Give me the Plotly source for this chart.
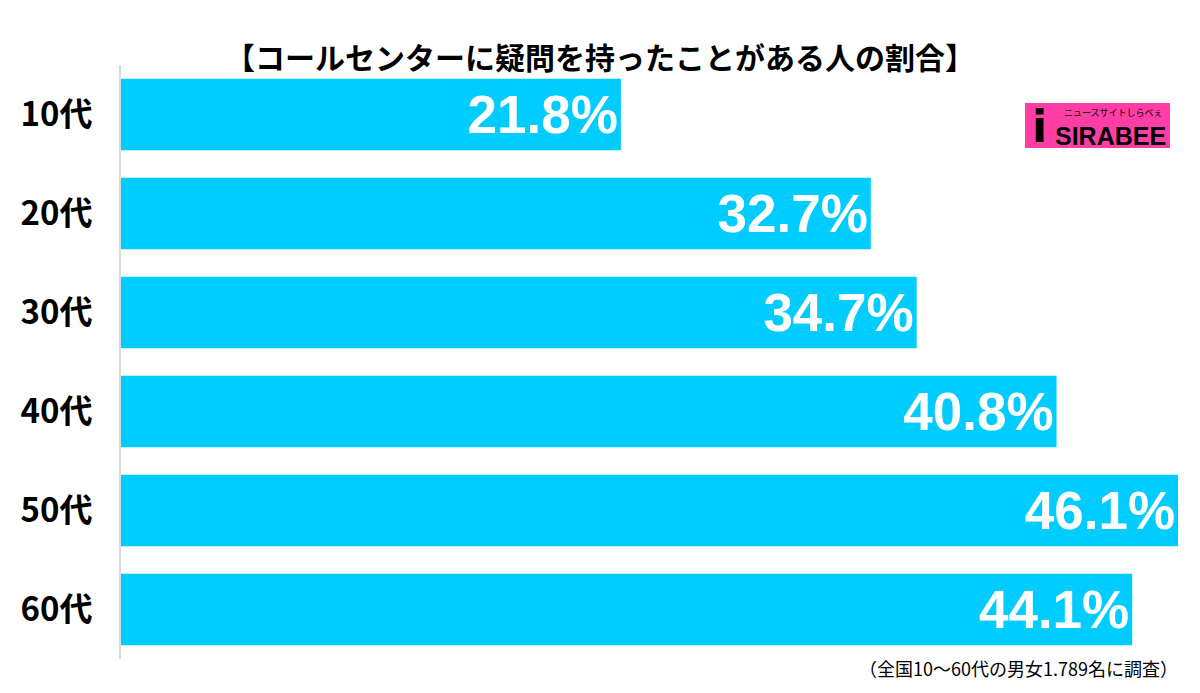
import plotly.graph_objects as go

ages = ["10代", "20代", "30代", "40代", "50代", "60代"]
rates = [21.8, 32.7, 34.7, 40.8, 46.1, 44.1]
labels = [f"{v}%" for v in rates]

title_text = "【コールセンターに疑問を持ったことがある人の割合】"
note_text = "（全国10～60代の男女1.789名に調査）"

fig = go.Figure(go.Bar(
    x=rates,
    y=ages,
    orientation="h",
    text=labels,
    textposition="inside",
    insidetextanchor="end",
    textfont=dict(family="Liberation Sans", size=53, color="white", weight="bold"),
    marker=dict(color="#00CCFF", line=dict(width=0)),
    hoverinfo="skip",
))

# ページ余白(8px)を差し引いた位置
fig.update_layout(
    width=1200,
    height=693,
    margin=dict(l=113, r=18, t=57, b=42),
    paper_bgcolor="white",
    plot_bgcolor="white",
    bargap=0.28,
    showlegend=False,
    uniformtext=dict(minsize=40, mode="show"),
)

fig.update_xaxes(
    range=[0, 1069 / 22.93],
    showgrid=False,
    zeroline=False,
    showticklabels=False,
    showline=False,
)
fig.update_yaxes(
    autorange="reversed",
    showgrid=False,
    zeroline=False,
    showline=True,
    linecolor="#d9d9d9",
    linewidth=2,
    ticks="",
    ticklabelstandoff=20,
    tickfont=dict(family="Noto Sans CJK JP", size=33, color="black", weight="bold"),
)

# タイトル
fig.add_annotation(
    text="<b>" + title_text + "</b>",
    xref="paper", yref="paper", x=0.448, y=1.0, yanchor="middle", xanchor="center",
    yshift=9,
    showarrow=False,
    font=dict(family="Noto Sans CJK JP", size=30, color="black"),
)

# 注記
fig.add_annotation(
    text=note_text,
    xref="paper", yref="paper", x=1.0, y=0, xanchor="right", yanchor="middle",
    yshift=-9, xshift=-10,
    showarrow=False,
    font=dict(family="Noto Sans CJK JP", size=18, color="black"),
)


def px_x(sx):
    return (sx - 121) / 1069


def px_y(sy):
    return (659 - sy) / 594


# ロゴ
fig.add_shape(
    type="rect", xref="paper", yref="paper",
    x0=px_x(1025), x1=px_x(1170), y0=px_y(148), y1=px_y(103),
    fillcolor="#FF3EA5", line=dict(width=0),
)
fig.add_annotation(
    text="<b>i</b>",
    xref="paper", yref="paper", x=px_x(1039), y=px_y(126),
    xanchor="center", yanchor="middle", showarrow=False,
    font=dict(family="DejaVu Sans", size=44, color="black"),
)
fig.add_annotation(
    text="<b>SIRABEE</b>",
    xref="paper", yref="paper", x=px_x(1110), y=px_y(136),
    xanchor="center", yanchor="middle", showarrow=False,
    font=dict(family="Liberation Sans", size=25, color="black"),
)
fig.add_annotation(
    text="ニュースサイトしらべぇ",
    xref="paper", yref="paper", x=px_x(1113), y=px_y(112),
    xanchor="center", yanchor="middle", showarrow=False,
    font=dict(family="Noto Sans CJK JP", size=9, color="black"),
)

fig.write_html("out.html")
